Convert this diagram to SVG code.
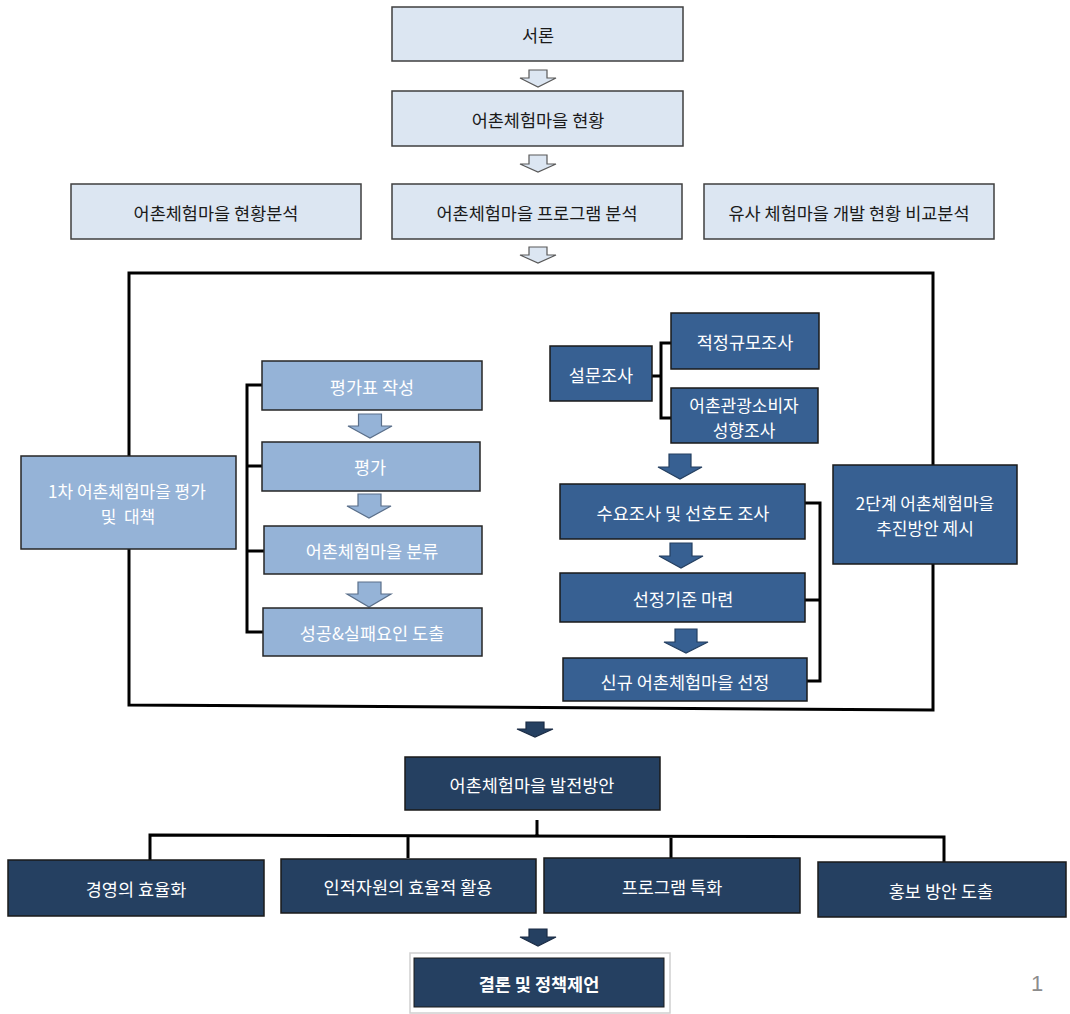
<svg xmlns="http://www.w3.org/2000/svg" width="1070" height="1014" viewBox="0 0 1070 1014">
<style>
text{font-family:"Noto Sans CJK KR","Liberation Sans",sans-serif;font-size:17.5px;text-anchor:middle;dominant-baseline:central}
.l rect{fill:#dce6f2;stroke:#3f3f3f;stroke-width:1.5}
.l text{fill:#1a1a1a}
.m rect{fill:#95b3d7;stroke:#262626;stroke-width:1.5}
.m text{fill:#ffffff}
.d rect{fill:#376092;stroke:#1a1a1a;stroke-width:1.5}
.d text{fill:#ffffff}
.n rect{fill:#254061;stroke:#1a1a1a;stroke-width:1.5}
.n text{fill:#ffffff}
text.t2{font-size:17px}
.ln{fill:none;stroke:#000;stroke-width:3}
.al{fill:#dce6f2;stroke:#595959;stroke-width:1.2}
.am{fill:#95b3d7;stroke:#5a6f8a;stroke-width:1.2}
.ad{fill:#376092;stroke:#243f60;stroke-width:1.2}
.an{fill:#254061;stroke:#1a2b44;stroke-width:1.2}
</style>
<rect width="1070" height="1014" fill="#ffffff"/>
<g id="connectors">
<path class="ln" d="M129,273 L933,273 L933,710 L129,705 Z"/>
<path class="ln" d="M262,385 H247 V632 H263 M247,466 H262 M247,551 H264"/>
<path class="ln" d="M652,376 H661 M671,343 H661 V418 H671"/>
<path class="ln" d="M805,503 H820 V681 H807 M805,600 H820"/>
<path class="ln" d="M537,820 V835 M150,860 V835 L944,837 V862 M408,858 V836 M671,858 V837"/>
<path class="al" d="M529,70 H547 V78 H556 L538,87 L520,78 H529 Z"/>
<path class="al" d="M529,155 H547 V164 H556 L538,172 L520,164 H529 Z"/>
<path class="al" d="M529,247 H547 V255 H556 L538,263 L520,255 H529 Z"/>
<path class="am" d="M358.5,414 H381.5 V426 H392 L370,438 L348,426 H358.5 Z"/>
<path class="am" d="M358,494 H381 V506 H391 L369,518 L347,506 H358 Z"/>
<path class="am" d="M358,582 H381 V594 H391 L369,607 L347,594 H358 Z"/>
<path class="ad" d="M669,454 H691 V467 H702 L680,479 L658,467 H669 Z"/>
<path class="ad" d="M670,543 H692 V556 H703 L681,568 L659,556 H670 Z"/>
<path class="ad" d="M675,629 H697 V642 H708 L686,653 L664,642 H675 Z"/>
<path class="an" d="M526,722 H544 V729 H553 L535,737 L517,729 H526 Z"/>
<path class="an" d="M529,929 H547 V937 H556 L538,946 L520,937 H529 Z"/>
</g>
<g id="n1" class="l"><rect x="392" y="7" width="291" height="54"/><text x="538" y="34">서론</text></g>
<g id="n2" class="l"><rect x="392" y="91" width="291" height="55"/><text x="538" y="119">어촌체험마을 현황</text></g>
<g id="n3" class="l"><rect x="71" y="184" width="290" height="55"/><text x="216" y="212">어촌체험마을 현황분석</text></g>
<g id="n4" class="l"><rect x="392" y="184" width="290" height="55"/><text x="537" y="212">어촌체험마을 프로그램 분석</text></g>
<g id="n5" class="l"><rect x="704" y="184" width="290" height="55"/><text x="849" y="212">유사 체험마을 개발 현황 비교분석</text></g>
<g id="n6" class="m"><rect x="21" y="456" width="215" height="93"/><text class="t2" x="127" y="490.5">1차 어촌체험마을 평가</text><text class="t2" x="128" y="515.5" xml:space="preserve">및  대책</text></g>
<g id="n7" class="m"><rect x="262" y="361" width="220" height="49"/><text x="372" y="386">평가표 작성</text></g>
<g id="n8" class="m"><rect x="262" y="442" width="218" height="49"/><text x="370" y="466">평가</text></g>
<g id="n9" class="m"><rect x="264" y="526" width="218" height="48"/><text x="372" y="550">어촌체험마을 분류</text></g>
<g id="n10" class="m"><rect x="263" y="608" width="219" height="48"/><text x="372" y="632">성공&amp;실패요인 도출</text></g>
<g id="n11" class="d"><rect x="550" y="346" width="102" height="55"/><text x="601" y="374">설문조사</text></g>
<g id="n12" class="d"><rect x="671" y="313" width="148" height="56"/><text x="745" y="341">적정규모조사</text></g>
<g id="n13" class="d"><rect x="671" y="388" width="147" height="55"/><text class="t2" x="744" y="404">어촌관광소비자</text><text class="t2" x="744" y="429">성향조사</text></g>
<g id="n14" class="d"><rect x="560" y="484" width="245" height="55"/><text x="683" y="512">수요조사 및 선호도 조사</text></g>
<g id="n15" class="d"><rect x="560" y="573" width="245" height="49"/><text x="683" y="598">선정기준 마련</text></g>
<g id="n16" class="d"><rect x="563" y="658" width="244" height="43"/><text x="685" y="681">신규 어촌체험마을 선정</text></g>
<g id="n17" class="d"><rect x="833" y="465" width="184" height="99"/><text class="t2" x="925" y="502.5">2단계 어촌체험마을</text><text class="t2" x="925" y="527.5">추진방안 제시</text></g>
<g id="n18" class="n"><rect x="405" y="757" width="255" height="53"/><text x="532" y="784">어촌체험마을 발전방안</text></g>
<g id="n19" class="n"><rect x="8" y="860" width="256" height="56"/><text x="136" y="888">경영의 효율화</text></g>
<g id="n20" class="n"><rect x="281" y="859" width="255" height="54"/><text x="408" y="886">인적자원의 효율적 활용</text></g>
<g id="n21" class="n"><rect x="544" y="858" width="256" height="55"/><text x="672" y="886">프로그램 특화</text></g>
<g id="n22" class="n"><rect x="818" y="862" width="248" height="55"/><text x="941" y="890">홍보 방안 도출</text></g>
<g id="n23"><rect x="410" y="953" width="260" height="60" fill="#ffffff" stroke="#d0d0d0" stroke-width="1.5"/><rect x="414" y="958" width="250" height="49" fill="#254061" stroke="#1a1a1a" stroke-width="1"/><text x="539" y="983" fill="#ffffff" font-weight="bold">결론 및 정책제언</text></g>
<text x="1037" y="983" fill="#8c8c8c" style="font-size:22px;font-family:'Liberation Sans',sans-serif">1</text>
</svg>
